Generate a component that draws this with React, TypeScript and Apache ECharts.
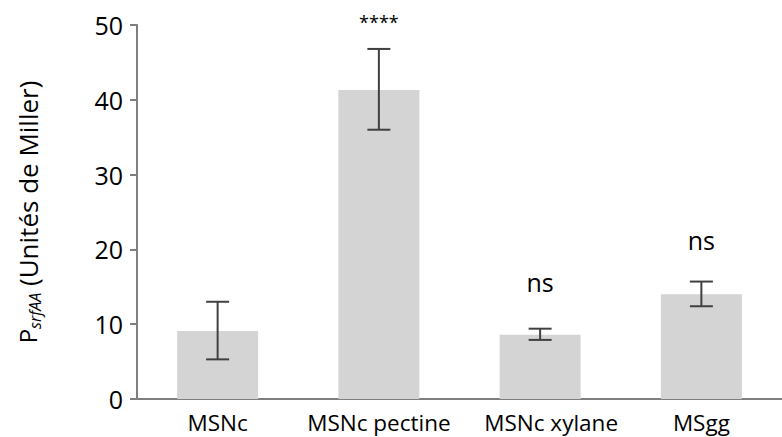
import React, { useEffect, useRef } from "react";
import * as echarts from "echarts";

const categories = ["MSNc", "MSNc pectine", "MSNc xylane", "MSgg"];
const means = [9.1, 41.3, 8.6, 14.0];
const errLow = [5.3, 36.0, 7.9, 12.4];
const errHigh = [13.0, 46.8, 9.4, 15.7];
const annotations = ["", "****", "ns", "ns"];
const annotationY = [0, 50.4, 15.6, 21.2];
const annotationSize = [0, 18, 25, 25];

const FONT = "'Open Sans', sans-serif";

export default function App() {
  const ref = useRef<HTMLDivElement>(null);
  useEffect(() => {
    document.body.style.margin = "0";
    if (!ref.current) return;
    const chart = echarts.init(ref.current, undefined, { renderer: "svg" });
    const errStyle = { stroke: "#404040", lineWidth: 2 };
    const annData = categories
      .map((_, i) => ({ value: [i, annotationY[i]], text: annotations[i], size: annotationSize[i] }))
      .filter((d) => d.text !== "");
    chart.setOption({
      animation: false,
      grid: { left: 137, top: 25, bottom: 38, right: -10, containLabel: false },
      xAxis: {
        type: "category",
        data: categories.map((c, i) =>
          i === 2 ? { value: c, textStyle: { padding: [0, 0, 0, 22] } } : c
        ),
        axisLine: { show: true, lineStyle: { color: "#7f7f7f", width: 2 } },
        axisTick: { show: false },
        axisLabel: { interval: 0, color: "#000", fontSize: 22.5, fontFamily: FONT, margin: 12 },
      },
      yAxis: {
        type: "value",
        min: 0,
        max: 50,
        interval: 10,
        name: "{p|P}{sub|srfAA}{n| (Unités de Miller)}",
        nameLocation: "middle",
        nameRotate: 90,
        nameGap: 94,
        nameTextStyle: {
          rich: {
            p: { fontSize: 24, fontFamily: FONT, color: "#000" },
            sub: { fontSize: 16, fontStyle: "italic", fontFamily: FONT, color: "#000", padding: [15, 0, 0, 0] },
            n: { fontSize: 26, fontFamily: FONT, color: "#000" },
          },
        },
        axisLine: { show: true, lineStyle: { color: "#7f7f7f", width: 2 } },
        axisTick: { show: true, length: 7, lineStyle: { color: "#7f7f7f", width: 2 } },
        splitLine: { show: false },
        axisLabel: { color: "#000", fontSize: 25, fontFamily: FONT, margin: 14 },
      },
      series: [
        {
          type: "bar",
          data: means,
          barWidth: 81,
          itemStyle: { color: "#d4d4d4" },
          z: 2,
        },
        {
          type: "custom",
          data: categories.map((_, i) => [i, errLow[i], errHigh[i]]),
          encode: { x: 0, y: [1, 2] },
          z: 3,
          renderItem: (params: any, api: any) => {
            const x = api.value(0);
            const lo = api.coord([x, api.value(1)]);
            const hi = api.coord([x, api.value(2)]);
            const half = 11.5;
            return {
              type: "group",
              children: [
                { type: "line", shape: { x1: lo[0], y1: lo[1], x2: hi[0], y2: hi[1] }, style: errStyle },
                { type: "line", shape: { x1: lo[0] - half, y1: lo[1], x2: lo[0] + half, y2: lo[1] }, style: errStyle },
                { type: "line", shape: { x1: hi[0] - half, y1: hi[1], x2: hi[0] + half, y2: hi[1] }, style: errStyle },
              ],
            };
          },
        },
        {
          type: "custom",
          data: annData.map((d) => d.value),
          z: 4,
          clip: false,
          renderItem: (params: any, api: any) => {
            const d = annData[params.dataIndex];
            const p = api.coord([api.value(0), api.value(1)]);
            return {
              type: "text",
              x: p[0],
              y: p[1],
              style: {
                text: d.text,
                fill: "#000",
                fontSize: d.size,
                fontFamily: FONT,
                align: "center",
                verticalAlign: "middle",
              },
            };
          },
        },
      ],
    });
    return () => chart.dispose();
  }, []);
  return <div ref={ref} style={{ width: 782, height: 437 }} />;
}
